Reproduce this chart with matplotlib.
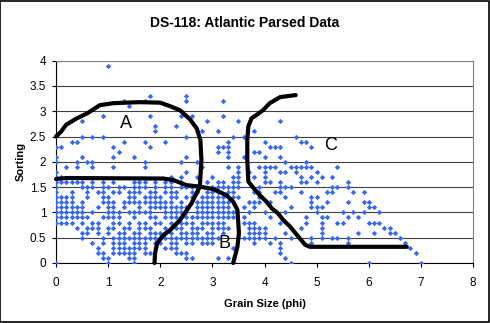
import numpy as np
import matplotlib.pyplot as plt
from matplotlib.patches import Rectangle

plt.rcParams['font.family'] = ['Liberation Sans', 'DejaVu Sans']

# grain size (phi) of every sample, grouped by its sorting value
sorting_levels = [3.9, 3.3, 3.2, 3.1, 2.9, 2.8, 2.7, 2.6, 2.5, 2.4, 2.3, 2.2, 2.1, 2.0,
                  1.9, 1.8, 1.7, 1.6, 1.5, 1.4, 1.3, 1.2, 1.1, 1.0, 0.9, 0.8, 0.7,
                  0.6, 0.5, 0.4, 0.3, 0.2, 0.1, 0.0]
grain_rows = [
    [1.0],
    [1.8, 2.5],
    [1.3, 1.7, 2.5, 3.2],
    [1.4],
    [0.9, 1.8, 2.4, 2.6, 3.2],
    [0.5, 2.9, 3.5, 4.3],
    [1.9, 2.3],
    [1.9, 2.8, 3.1, 3.8],
    [0.5, 0.7, 0.9, 2.5, 3.4, 3.6, 4.6],
    [0.3, 0.4, 1.3, 1.7, 2.1, 3.3, 4.0, 4.7, 4.8],
    [0.0, 0.1, 1.1, 1.8, 3.1, 3.2, 3.3, 4.1, 4.2, 4.3, 4.9],
    [1.2, 3.1, 3.3, 3.8, 3.9],
    [0.0, 0.5, 1.1, 1.5, 2.5, 3.3, 3.6, 4.0, 4.3],
    [0.0, 0.4, 0.6, 0.7, 1.7, 2.4, 2.7, 4.4, 4.8],
    [0.2, 0.4, 0.7, 1.1, 1.7, 2.8, 3.3, 3.5, 3.9, 4.0, 4.1, 4.2, 4.5, 4.6, 4.7, 4.8, 4.9, 5.4],
    [0.0, 2.5, 3.5, 3.7, 4.0, 4.3, 4.4, 4.6, 5.0],
    [0.0, 0.1, 2.2, 2.4, 2.7, 3.0, 3.4, 3.5, 3.8, 4.0, 4.7, 4.9, 5.1, 5.3],
    [0.0, 0.1, 0.2, 0.3, 0.4, 0.5, 0.7, 0.9, 1.1, 1.5, 1.6, 1.7, 1.9, 2.1, 2.2, 2.4,
     2.9, 3.1, 3.2, 3.4, 3.5, 4.0, 4.1, 4.3, 4.7, 4.8, 5.0, 5.6],
    [0.0, 0.5, 0.6, 0.7, 0.9, 1.0, 1.2, 1.3, 1.5, 1.6, 1.7, 1.9, 2.1, 2.2, 2.4, 2.5,
     2.6, 2.7, 3.0, 3.1, 3.2, 3.3, 3.4, 3.5, 3.9, 4.3, 4.4, 4.5, 5.3, 5.4, 5.6],
    [0.0, 0.3, 0.6, 0.8, 0.9, 1.1, 1.2, 1.4, 1.5, 1.6, 1.8, 1.9, 2.1, 2.2, 2.3, 2.6,
     2.7, 2.9, 3.0, 3.1, 3.3, 3.4, 3.8, 3.9, 4.2, 4.3, 4.7, 5.2, 5.3, 5.7, 5.9],
    [0.0, 0.1, 0.2, 0.3, 0.6, 0.9, 1.0, 1.4, 1.5, 1.7, 1.8, 1.9, 2.0, 2.2, 2.3, 2.5,
     2.6, 2.8, 2.9, 3.0, 3.1, 3.2, 3.4, 3.5, 3.9, 4.4, 4.9, 5.0],
    [0.0, 0.1, 0.2, 0.3, 0.5, 0.9, 1.0, 1.1, 1.3, 1.4, 1.5, 1.6, 1.7, 1.8, 1.9, 2.0,
     2.1, 2.2, 2.4, 2.7, 2.8, 2.9, 3.0, 3.1, 3.2, 3.3, 3.7, 3.8, 3.9, 4.1, 4.9, 5.2,
     5.6, 5.9, 6.0],
    [0.0, 0.1, 0.2, 0.3, 0.4, 0.5, 0.8, 1.0, 1.1, 1.3, 1.6, 1.8, 1.9, 2.0, 2.1, 2.2,
     2.3, 2.4, 2.5, 2.7, 2.8, 2.9, 3.0, 3.1, 3.2, 3.3, 3.6, 3.8, 4.5, 4.9, 5.0, 5.1,
     6.0, 6.1],
    [0.0, 0.1, 0.2, 0.3, 0.4, 0.5, 0.7, 1.0, 1.1, 1.2, 1.4, 1.5, 1.6, 1.7, 1.8, 2.1,
     2.2, 2.3, 2.4, 2.5, 2.7, 2.8, 2.9, 3.0, 3.1, 3.2, 3.3, 3.4, 3.7, 4.0, 4.4, 5.0,
     5.5, 5.7, 5.9, 6.2],
    [0.0, 0.1, 0.2, 0.3, 0.4, 0.5, 0.6, 0.9, 1.0, 1.1, 1.2, 1.5, 1.8, 1.9, 2.1, 2.2,
     2.3, 2.4, 2.5, 2.6, 2.7, 2.8, 2.9, 3.0, 3.1, 3.2, 3.3, 3.4, 3.6, 4.1, 4.8, 5.1,
     5.2, 5.6, 5.8],
    [0.0, 0.1, 0.2, 0.3, 0.5, 0.7, 0.8, 1.1, 1.2, 1.4, 1.6, 1.7, 1.9, 2.0, 2.2, 2.3,
     2.4, 2.5, 2.6, 2.8, 2.9, 3.0, 3.1, 3.2, 3.6, 3.7, 3.8, 4.3, 4.8, 5.1, 5.4, 5.5,
     6.0, 6.1, 6.2],
    [0.4, 0.6, 0.7, 0.8, 1.0, 1.1, 1.3, 1.4, 1.6, 1.7, 1.8, 2.1, 2.2, 2.3, 2.4, 2.6,
     2.7, 2.8, 3.0, 3.1, 3.2, 3.3, 3.7, 3.8, 3.9, 4.0, 4.7, 5.1, 6.3, 6.4],
    [0.5, 0.6, 0.8, 1.0, 1.2, 1.3, 1.5, 1.6, 1.8, 1.9, 2.0, 2.1, 2.2, 2.4, 2.5, 2.6,
     2.7, 2.9, 3.0, 3.2, 3.7, 3.8, 3.9, 4.0, 4.4, 5.1, 5.8, 6.1, 6.4, 6.5],
    [0.5, 0.9, 1.1, 1.2, 1.3, 1.4, 1.5, 1.6, 1.7, 1.8, 1.9, 2.0, 2.1, 2.2, 2.3, 2.4,
     2.5, 2.6, 2.7, 2.8, 2.9, 3.0, 3.1, 3.6, 3.7, 3.8, 3.9, 4.0, 4.2, 4.5, 4.9, 5.1,
     5.3, 5.4, 5.6, 6.6],
    [0.7, 0.9, 1.1, 1.2, 1.3, 1.5, 1.6, 1.7, 1.9, 2.0, 2.2, 2.3, 2.5, 2.6, 2.8, 2.9,
     3.0, 3.8, 4.1, 4.3, 4.9, 5.6, 6.7],
    [0.8, 1.1, 1.2, 1.3, 1.4, 1.5, 1.6, 1.7, 2.1, 2.2, 2.3, 3.4, 4.3, 6.8],
    [0.8, 0.9, 1.1, 1.2, 1.3, 1.4, 1.5, 1.7, 1.8, 2.3, 2.4, 2.5, 4.3, 6.9],
    [0.9, 1.0, 1.4, 1.5, 2.5, 2.6, 3.1, 3.3, 4.4],
    [0.0, 1.0, 1.5, 4.5, 6.0, 7.0],
]

# hand-drawn facies boundaries (grain size, sorting)
bound_a_x = [0.0, 0.1, 0.19, 0.4, 0.6, 0.84, 1.1, 1.6, 2.0, 2.19, 2.38, 2.57, 2.7, 2.77, 2.79, 2.76,
             2.6, 2.38, 2.19, 2.06, 1.94, 1.9, 1.89]
bound_a_y = [2.5, 2.6, 2.73, 2.86, 2.96, 3.12, 3.16, 3.18, 3.17, 3.1, 3.02, 2.84, 2.66, 2.43, 2.04, 1.51,
             1.18, 0.85, 0.65, 0.55, 0.39, 0.19, 0.0]
bound_b_x = [0.0, 0.2, 2.06, 2.25, 2.5, 2.76, 3.02, 3.27, 3.4, 3.48, 3.51, 3.48, 3.4]
bound_b_y = [1.66, 1.68, 1.67, 1.64, 1.54, 1.51, 1.46, 1.34, 1.21, 1.05, 0.59, 0.32, 0.0]
bound_c_x = [4.6, 4.45, 4.3, 4.1, 3.97, 3.85, 3.75, 3.69, 3.67, 3.67, 3.69, 3.79, 3.91, 4.04, 4.14,
             4.26, 4.36, 4.49, 4.65, 4.78, 4.87, 6.73]
bound_c_y = [3.32, 3.3, 3.28, 3.16, 3.02, 2.93, 2.86, 2.7, 2.43, 2.04, 1.61, 1.48, 1.34, 1.21, 1.08,
             0.98, 0.85, 0.72, 0.52, 0.36, 0.32, 0.32]

grain = np.concatenate([np.array(r, dtype=float) for r in grain_rows])
sorting = np.concatenate([np.full(len(r), s) for r, s in zip(grain_rows, sorting_levels)])

fig = plt.figure(figsize=(4.9, 3.23), dpi=100)
ax = fig.add_axes([0.1143, 0.1858, 0.8510, 0.6263])

ax.plot(grain, sorting, linestyle='none', marker='D', markersize=2.7,
        color='#3366ff', markeredgewidth=0, zorder=3)

for bx, by in [(bound_a_x, bound_a_y), (bound_b_x, bound_b_y), (bound_c_x, bound_c_y)]:
    ax.plot(bx, by, color='black', linewidth=3, solid_capstyle='round',
            solid_joinstyle='round', zorder=4, clip_on=False)

ax.text(1.34, 2.76, 'A', fontsize=13, ha='center', va='center', zorder=5)
ax.text(3.23, 0.39, 'B', fontsize=13, ha='center', va='center', zorder=5)
ax.text(5.26, 2.33, 'C', fontsize=13, ha='center', va='center', zorder=5)

ax.set_xlim(0, 8)
ax.set_ylim(0, 4)
ax.set_xticks(range(0, 9))
ax.set_yticks(np.arange(0, 4.01, 0.5))
ax.set_yticklabels(['0', '0.5', '1', '1.5', '2', '2.5', '3', '3.5', '4'])
ax.yaxis.grid(True, color='#404040', linewidth=0.8)
ax.set_axisbelow(True)
ax.tick_params(labelsize=8.5, length=3, width=0.8, colors='black')
ax.tick_params(axis='x', pad=7)
ax.tick_params(axis='y', pad=4)
for side in ['top', 'right']:
    ax.spines[side].set_color('#808080')
for side in ['left', 'bottom']:
    ax.spines[side].set_color('black')
for sp in ax.spines.values():
    sp.set_linewidth(0.8)

ax.set_xlabel('Grain Size (phi)', fontsize=8, fontweight='bold', labelpad=7)
ax.set_ylabel('Sorting', fontsize=8, fontweight='bold', labelpad=3)
fig.text(0.5, 0.93, 'DS-118: Atlantic Parsed Data', fontsize=10, fontweight='bold',
         ha='center', va='center')

fig.patches.append(Rectangle((0.001, 0.002), 0.997, 0.995, transform=fig.transFigure,
                             fill=False, edgecolor='black', linewidth=1.2))

fig.savefig('out.png', dpi=100)
